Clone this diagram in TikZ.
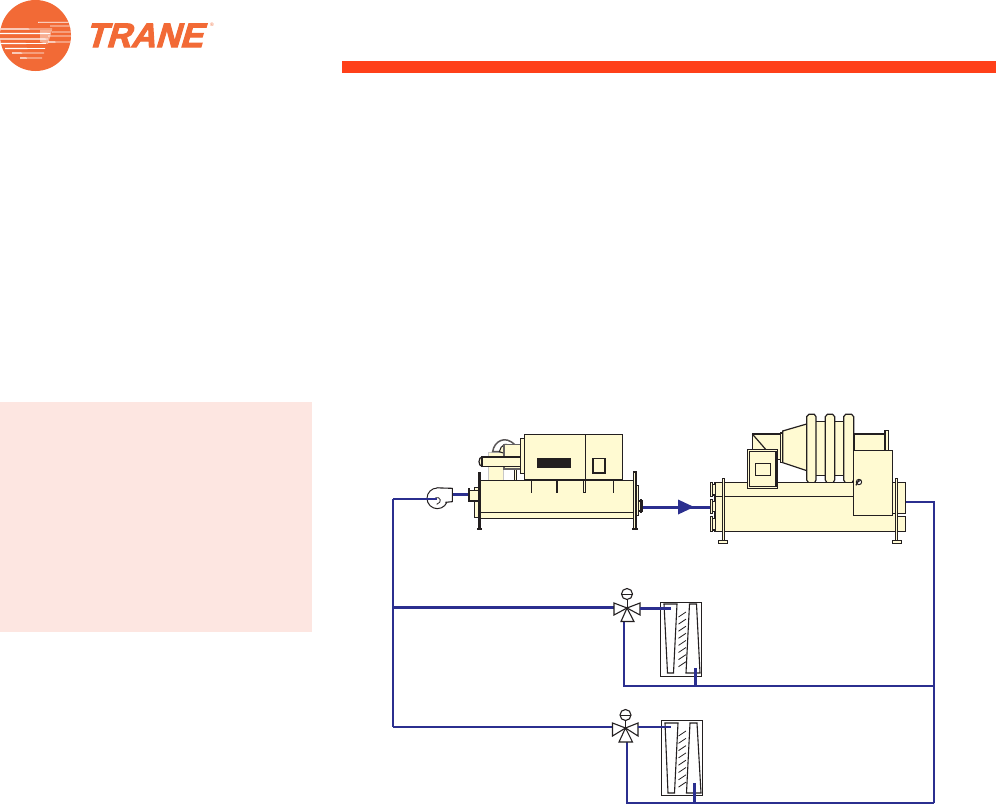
\documentclass[tikz,border=0pt]{standalone}
\usepackage{fontspec}
\setmainfont{Liberation Sans}
\newfontfamily\logofont[FakeBold=3,FakeSlant=0.3]{Liberation Sans Bold}
\definecolor{cream}{HTML}{FFFAD2}
\definecolor{pipe}{HTML}{2B2F8F}
\definecolor{ink}{HTML}{231F20}
\definecolor{logoorange}{HTML}{F26A36}
\definecolor{barred}{HTML}{FF4019}
\definecolor{panelpink}{HTML}{FDE6E1}
\tikzset{
  part/.style={draw=ink,fill=cream,line width=1.2pt},
  thinpart/.style={draw=ink,line width=1.2pt},
  pipeline/.style={draw=pipe,line width=2.4pt},
  thickpipe/.style={draw=pipe,line width=3pt},
  valvepart/.style={draw=ink,fill=white,line width=1.1pt},
  tube/.style={draw=ink,fill=white,line width=1.1pt},
  hatchline/.style={draw=ink,line width=.8pt},
  zoomA/.style={shift={(420,425)},x=0.3333pt,y=-0.3333pt},
  zoomB/.style={shift={(670,405)},x=0.3333pt,y=-0.3333pt},
}
\newcommand{\coilhatch}[3]{%
  \foreach \k in {0,...,7}{\draw[hatchline] ({#1},{#2+\k*#3}) -- ({#1+7.5},{#2+\k*#3-5});}}
\begin{document}
\begin{tikzpicture}[x=1pt,y=-1pt]
\useasboundingbox (0,0) rectangle (996,806);
\fill[white] (0,0) rectangle (996,806);
% page furniture
\fill[barred] (342,61) rectangle (996,73);
\fill[panelpink] (0,402) rectangle (312,632);
% logo
\fill[logoorange] (35.5,35.5) circle (35.5);
\begin{scope}
\clip (35.5,35.5) circle (35.5);
\foreach \ya/\xa/\xb/\h in {22.3/38/72/.45, 26/50/72/.35, 32/52/72/.5, 36/48/72/.5, 42/48/72/.55, 29/0/52/.6, 33.5/0/50/.7, 39/0/48/.7, 43.5/1/46/.6, 48.5/5/45/.6, 53/12/44/.55, 58/20/42/.55}
  \fill[white] (\xa,\ya-\h) -- (\xb,\ya-\h*.7) -- (\xb,\ya+\h*.7) -- (\xa,\ya+\h) -- cycle;
\fill[white,opacity=.45] (40,30) -- (52,30) -- (48,44) -- (40,42) -- cycle;
\end{scope}
\node[anchor=base west,inner sep=0pt,text=logoorange,font=\logofont\fontsize{34}{34}\selectfont] (logoword) at (85,47) {TRANE};
\node[anchor=center,inner sep=0pt,text=logoorange,font=\fontsize{5}{5}\selectfont] (logomark) at (212,25) {®};
% pipes
\coordinate (leftTop) at (393,499);
\coordinate (leftMid) at (393,607);
\coordinate (leftBot) at (393,727);
\coordinate (fanIn) at (437,499);
\coordinate (rTop) at (906,502);
\coordinate (rCorner) at (934,502);
\coordinate (rMid) at (934,686);
\coordinate (rBot) at (934,803);
\draw[pipeline] (leftBot) -- (612,727);
\draw[pipeline] (leftTop) -- (leftBot);
\draw[thickpipe] (leftMid) -- (614,607);
\draw[pipeline] (rTop) -- (rCorner) -- (rBot);
\draw[pipeline] (rMid) -- (624,686) -- (624,622);
\draw[pipeline] (rBot) -- (627,803) -- (627,742);
\draw[thickpipe] (452,494) -- (472,494);
\draw[thickpipe] (638,507) -- (712,507);
\fill[pipe] (678,499.5) -- (694,507) -- (678,514.5) -- cycle;
% chiller 1
\begin{scope}[zoomA]
\draw[draw=ink!25,fill=cream,line width=1pt] (206,82) rectangle (250,166);
\draw[draw=ink!75,line width=1.5pt,fill=white] (218,80) .. controls (222,50) and (255,28) .. (285,60) -- (238,80) -- cycle;
\draw[part,line width=1pt] (238,80) .. controls (240,70) and (245,62) .. (254,58) -- (285,60) -- (250,84) -- cycle;
\draw[part,line width=1pt] (283,125) rectangle (290,166);
\draw[part,draw=ink!70] (252,58) rectangle (302,132);
\draw[part] (186,110) ellipse (9 and 14);
\draw[part] (186,96) rectangle (304,124);
\draw[part] (301,41) rectangle (313,146);
\draw[part] (313,28) rectangle (496,165);
\draw[part] (496,28) rectangle (608,165);
\fill[ink] (351,99) rectangle (453,128);
\draw[draw=ink,line width=1.6pt] (519,101) rectangle (555,144);
\draw[part] (163,187) rectangle (180,277);
\draw[part] (148,196) rectangle (180,228);
\fill[ink] (144,188) rectangle (149,231);
\draw[part] (645,181) rectangle (656,271);
\draw[part] (656,228) rectangle (666,258);
\fill[ink] (660,222) rectangle (666,264);
\draw[part] (180,166) rectangle (640,280);
\draw[thinpart] (180,262) -- (640,262);
\foreach \xx in {335,411,581}{\fill[ink] (\xx-2.5,166) rectangle (\xx+2.5,204);}
\draw[part] (490,166) rectangle (497,203);
\fill[ink] (174,141) rectangle (183,310);
\fill[ink] (171,308) rectangle (186,315);
\draw[part] (640,141) rectangle (650,310);
\fill[ink] (646,141) rectangle (651,310);
\fill[ink] (637,308) rectangle (654,315);
% fan
\draw[draw=ink,fill=white,line width=1pt] (52,220) ellipse (31 and 31);
\fill[white] (50,190) rectangle (96,230);
\draw[draw=ink,line width=1.1pt] (50,188.5) -- (97,190) -- (97,230) -- (76,232);
\draw[draw=ink,line width=.8pt] (46,218) .. controls (62,214) and (68,232) .. (50,238);
\end{scope}
\draw[pipeline] (fanIn) -- (leftTop);
% chiller 2
\begin{scope}[zoomB]
\draw[part] (552,87) rectangle (650,140);
\draw[part] (645,76) rectangle (655,140);
\draw[part] (247,87) rectangle (335,164);
\draw[thinpart] (247,87) -- (287,133);
\draw[part] (331,84) rectangle (338,173);
\draw[part] (338,78) -- (410,57) -- (410,197) -- (338,173) -- cycle;
\draw[part] (435,49) rectangle (470,211);
\draw[part] (490,49) rectangle (525,211);
\draw[part] (410,35) -- (417,28) -- (433,28) -- (438,35) -- (438,225) -- (433,235) -- (417,235) -- (410,225) -- cycle;
\draw[part] (466,35) -- (472,28) -- (488,28) -- (494,35) -- (494,225) -- (488,235) -- (472,235) -- (466,225) -- cycle;
\draw[part] (521,35) -- (527,28) -- (545,28) -- (551,35) -- (551,225) -- (545,235) -- (527,235) -- (521,225) -- cycle;
\draw[part] (135,232) rectangle (707,325);
\fill[cream] (136,326) rectangle (683,379);
\draw[part] (683,379) -- (135,379) -- (135,275) -- (552,275);
\draw[part] (683,335) rectangle (707,379);
\draw[part] (121,233) rectangle (128,274);
\draw[part] (128,238) rectangle (136,270);
\draw[part] (121,284) rectangle (128,325);
\draw[part] (128,290) rectangle (136,320);
\draw[part] (121,335) rectangle (128,379);
\draw[part] (128,340) rectangle (136,375);
\draw[part] (157,220) rectangle (163,406);
\draw[part] (146,406) rectangle (172,415);
\draw[part] (677,220) rectangle (683,406);
\draw[part] (668,406) rectangle (694,415);
\draw[part] (550,136) rectangle (667,331);
\draw[part] (232,133) rectangle (323,250);
\draw[part] (238,139) rectangle (318,245);
\draw[part] (256,175) rectangle (302,212);
\draw[draw=ink,line width=1pt,fill=white] (567,231) circle (8);
\draw[draw=ink,line width=1.3pt] (558,241) -- (566,226);
\draw[draw=ink,line width=.9pt] (565,230) -- (573,225);
\end{scope}
% valve 1 and coil 1
\coordinate (v1) at (627,608);
\node[circle,draw=ink,fill=white,line width=1.1pt,minimum size=11pt,inner sep=0pt] (act1) at (627,594) {};
\draw[valvepart] (v1) -- (614,603) -- (614,615) -- cycle;
\draw[valvepart] (v1) -- (640,603) -- (640,615) -- cycle;
\draw[valvepart] (v1) -- (621,621.5) -- (634,621.5) -- cycle;
\draw[draw=ink,line width=1pt] (act1.south) -- (v1);
\draw[draw=ink,line width=1pt] (621.5,594) -- (632.5,594);
\draw[draw=ink,line width=1pt,fill=white] (660.5,602) rectangle (701,676);
\draw[tube] (664,604) -- (677,604) -- (673.5,673) -- (667.5,673) -- cycle;
\draw[tube] (689.5,604) -- (696.5,604) -- (700,673) -- (686,673) -- cycle;
\coilhatch{678.5}{617}{7.1}
\draw[thickpipe] (640,608) -- (671,608);
\draw[thickpipe] (695,668) -- (695,686);
% valve 2 and coil 2
\coordinate (v2) at (625.5,728);
\node[circle,draw=ink,fill=white,line width=1.1pt,minimum size=11pt,inner sep=0pt] (act2) at (625.5,715) {};
\draw[valvepart] (v2) -- (612.5,723) -- (612.5,736) -- cycle;
\draw[valvepart] (v2) -- (638,723) -- (638,736) -- cycle;
\draw[valvepart] (v2) -- (619,742) -- (632.5,742) -- cycle;
\draw[draw=ink,line width=1pt] (act2.south) -- (v2);
\draw[draw=ink,line width=1pt] (620,715) -- (631,715);
\draw[draw=ink,line width=1pt,fill=white] (661.5,720.5) rectangle (702.5,795.5);
\draw[tube] (665,723) -- (678,723) -- (674.5,793) -- (668,793) -- cycle;
\draw[tube] (690,723) -- (697,723) -- (701,793) -- (686.5,793) -- cycle;
\coilhatch{678.5}{736}{7.3}
\draw[pipeline] (638,727) -- (671,727);
\draw[thickpipe] (694,783) -- (694,803);
\end{tikzpicture}
\end{document}
